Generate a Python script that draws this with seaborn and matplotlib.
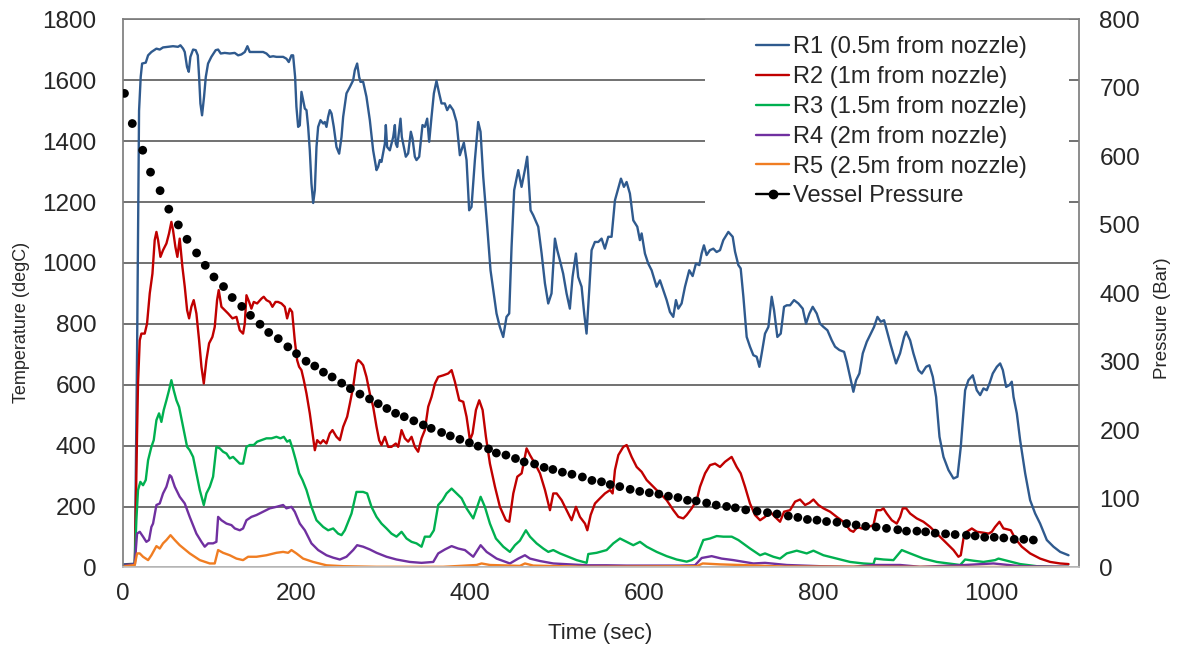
import matplotlib
matplotlib.use("Agg")
import matplotlib.pyplot as plt
import seaborn as sns
from matplotlib.lines import Line2D
from matplotlib.patches import Rectangle

# R1 (0.5m from nozzle)
r1_t = [0, 14, 16.5, 18.8, 20.7, 22.3, 26.5, 29.2, 33, 38.8, 42.6, 46.4, 52.2, 57.9, 63.7, 66.4, 69.5, 71.4, 74, 76,
        77.9, 81, 84, 86.4, 87.9, 89.4, 91.3, 93.6, 95.6, 98.2, 102, 107, 109.8, 112.8, 117.4, 123.2, 128.9, 132.8,
        136.6, 140.5, 143.5, 146.2, 150, 155.8, 161.6, 165.4, 169.3, 173.1, 176.9, 180.8, 184.6, 188.4, 191.1, 194.2,
        196.1, 198.4, 199.9, 201.9, 203.8, 205.7, 207.6, 209.6, 211.5, 213.4, 215.3, 217.2, 219.2, 221.1, 223, 224.9,
        227.6, 230.7, 232.6, 234.5, 236.4, 238.3, 240.3, 242.9, 246, 249.1, 251.8, 253.7, 257.5, 261.4, 265.2, 267.1,
        269.8, 272.1, 273.6, 276.7, 280.5, 284.4, 288.2, 292.1, 294, 295.9, 297.8, 301.7, 302.8, 304.3, 307.4, 309.3,
        311.3, 313.2, 314.3, 315.9, 318.2, 319.7, 321.2, 323.5, 325.8, 328.5, 331.6, 333.5, 336.2, 338.1, 341.2, 345,
        347.7, 350.4, 352.7, 355.4, 358.1, 361.1, 364.2, 366.9, 370.7, 373.4, 376.5, 380.3, 384.2, 388, 392.6, 395.7,
        398.7, 401.4, 405.3, 409.1, 411.8, 414.9, 419.5, 423.3, 426.4, 430.2, 434, 437.9, 441.7, 444.8, 447.5, 450.5,
        455.2, 459, 462.8, 465.5, 469.4, 472.4, 478.2, 482.1, 485.9, 489.7, 493.5, 497.4, 500.1, 503.1, 506.9, 510.8,
        514.6, 517.7, 521.6, 524.2, 528.1, 531.1, 533.8, 536.9, 539.6, 543.4, 547.3, 551.1, 554.9, 558.8, 562.6, 566.5,
        570.3, 573.4, 576.8, 579.9, 583.7, 587.6, 592.2, 595.2, 597.2, 601, 604.8, 608.7, 614.4, 618.3, 622.1, 626,
        629.8, 633.6, 636.7, 639.4, 643.2, 647.1, 652, 655.9, 659.7, 663.6, 666.2, 668.9, 672, 675.8, 679.7, 683.5,
        687.4, 691.2, 697, 702, 704.7, 708.5, 711.2, 714.3, 718.1, 721.9, 725.8, 729.6, 732.7, 735.4, 739.2, 743.1,
        746.9, 749.6, 753.4, 757.3, 761.1, 764.2, 768, 772.6, 777.6, 782.6, 786.4, 790.3, 794.1, 798.7, 802.5, 806.4,
        811, 816, 819.8, 824.8, 830.2, 833.3, 837.1, 840.9, 844, 847.8, 851.7, 856.3, 860.9, 864.7, 868.6, 872.4,
        876.2, 879.3, 883.9, 890, 894.6, 899.3, 901.6, 906.2, 910, 915.8, 919.6, 924.6, 928.4, 932.3, 936.1, 940,
        944.6, 950.3, 956.1, 960.7, 964.5, 969.5, 973.3, 978.3, 982.9, 986.8, 990.6, 994.4, 997.5, 1001.3, 1006,
        1009.8, 1012.9, 1016.7, 1020.5, 1023.2, 1025.2, 1029, 1032.8, 1038.6, 1044.3, 1050.1, 1055.8, 1063.5, 1071.2,
        1078.9, 1088.5]
r1_temp = [10, 12, 700, 1500, 1611, 1655, 1658, 1682, 1693, 1704, 1701, 1708, 1710, 1712, 1710, 1715, 1704, 1693, 1644,
           1628, 1677, 1701, 1699, 1682, 1611, 1524, 1485, 1546, 1611, 1655, 1677, 1699, 1701, 1688, 1690, 1688, 1690,
           1682, 1685, 1693, 1712, 1693, 1693, 1693, 1693, 1688, 1677, 1679, 1677, 1677, 1677, 1671, 1660, 1682, 1682,
           1611, 1513, 1447, 1452, 1562, 1535, 1507, 1502, 1447, 1370, 1261, 1197, 1239, 1381, 1447, 1469, 1458, 1463,
           1447, 1480, 1502, 1491, 1447, 1381, 1359, 1414, 1480, 1557, 1578, 1600, 1633, 1655, 1611, 1595, 1595, 1546,
           1469, 1370, 1305, 1316, 1338, 1332, 1392, 1453, 1381, 1370, 1392, 1414, 1453, 1392, 1381, 1436, 1474, 1414,
           1381, 1349, 1360, 1431, 1409, 1349, 1338, 1349, 1453, 1447, 1474, 1398, 1480, 1557, 1598, 1557, 1524, 1524,
           1502, 1518, 1502, 1463, 1354, 1395, 1338, 1173, 1184, 1338, 1463, 1431, 1283, 1119, 976, 911, 834, 790, 757,
           823, 834, 1053, 1239, 1305, 1250, 1305, 1349, 1173, 1157, 1119, 1031, 933, 867, 900, 1080, 1042, 1009, 965,
           900, 850, 954, 1031, 954, 922, 834, 768, 911, 1042, 1069, 1069, 1080, 1047, 1086, 1086, 1206, 1245, 1277,
           1250, 1266, 1228, 1140, 1119, 1075, 1097, 1031, 998, 976, 922, 943, 911, 878, 839, 823, 878, 850, 867, 922,
           976, 957, 998, 993, 1031, 1058, 1026, 1042, 1047, 1036, 1042, 1075, 1102, 1086, 1037, 993, 982, 889, 757,
           725, 697, 692, 659, 703, 768, 790, 889, 845, 757, 768, 856, 861, 861, 878, 867, 850, 801, 834, 856, 834, 801,
           790, 779, 746, 725, 714, 708, 675, 626, 577, 615, 637, 703, 741, 768, 790, 823, 807, 812, 779, 730, 670, 703,
           757, 774, 746, 703, 648, 637, 659, 664, 626, 560, 429, 363, 320, 292, 298, 396, 582, 615, 631, 582, 566, 588,
           582, 604, 637, 659, 670, 648, 593, 599, 610, 560, 506, 418, 309, 221, 177, 144, 90, 68, 51, 40]

# R2 (1m from nozzle)
r2_t = [0, 14, 16.5, 17.6, 19.6, 21.5, 25.3, 28, 31.1, 34.2, 36.8, 38.8, 40.7, 43.4, 46.4, 50.3, 53.3, 56, 57.9, 60.6,
        62.9, 65.6, 68.7, 71.4, 74.1, 76.4, 79, 81.7, 84.8, 87.9, 90.6, 93.3, 96.3, 99.4, 103.2, 105.9, 108.6, 110.5,
        113.6, 117.4, 121.3, 126.3, 130.9, 134.7, 138.5, 140.5, 142.4, 145.5, 148.1, 150.8, 154.7, 159.7, 162.3,
        165.4, 169.3, 172.3, 175.8, 178.8, 182.7, 186.5, 189.2, 192.3, 195, 198, 200.7, 203, 205.7, 208.4, 211.5,
        215.3, 218.4, 221.1, 223.8, 227.6, 230.7, 234.5, 238.3, 241.4, 246, 249.9, 253.7, 258.3, 261.4, 265.2, 269,
        271, 273.6, 276.7, 280.5, 284.4, 288.2, 292.1, 295.1, 297.8, 301.7, 305.5, 309.3, 314.3, 317, 320.9, 324.7,
        328.5, 332.4, 336.2, 340, 343.9, 347.7, 351.6, 355.4, 359.3, 363.1, 368.9, 374.6, 378.5, 382.3, 387.3, 391.9,
        395.7, 399.6, 402.6, 406.5, 410.3, 414.2, 418, 422.6, 428.4, 434.1, 441, 444.9, 449.5, 454.1, 459.1, 464.8,
        468.7, 474.4, 480.2, 486, 491.7, 495.5, 499.4, 505.1, 510.9, 516.6, 521.6, 526.2, 532, 534.7, 538.5, 543.5,
        549.3, 555, 560.8, 563.8, 566.5, 570.4, 576.1, 580, 585.7, 591.5, 597.2, 603, 610.7, 618.3, 626, 633.7, 639.5,
        645.2, 649, 654.8, 660.6, 664.4, 670.2, 675.9, 681.7, 687.4, 693.2, 700.8, 706.6, 711.2, 716.2, 721.9, 727.7,
        733.5, 739.2, 745, 750.7, 756.5, 761.1, 768, 773.8, 779.5, 785.3, 790.3, 794.9, 800.6, 806.4, 814.1, 821.7,
        829.4, 837.1, 840.9, 845.5, 850.5, 858.2, 864, 867.8, 872.4, 875.5, 879.3, 885.1, 890.8, 894.7, 897.7, 901.6,
        906.2, 913.8, 921.5, 929.2, 938.8, 948.4, 956.1, 961.8, 964.5, 967.6, 971.4, 977.2, 983, 990.6, 996.4, 1000.2,
        1004, 1009, 1013.6, 1018.2, 1022.1, 1027.1, 1034.7, 1044.3, 1055.8, 1067.4, 1078.9, 1088.5]
r2_temp = [7, 10, 440, 604, 746, 768, 768, 801, 900, 965, 1075, 1102, 1075, 1020, 1042, 1064, 1097, 1135, 1108, 1053,
           1020, 1080, 987, 922, 845, 818, 856, 878, 834, 746, 659, 604, 681, 736, 757, 790, 878, 911, 856, 845, 834,
           818, 823, 779, 768, 801, 894, 872, 850, 872, 867, 883, 889, 878, 872, 856, 872, 872, 867, 856, 818, 850, 839,
           746, 681, 659, 648, 615, 571, 506, 440, 385, 418, 407, 418, 407, 440, 451, 429, 418, 462, 495, 538, 593, 670,
           681, 675, 664, 626, 571, 528, 462, 418, 402, 429, 396, 396, 407, 396, 451, 424, 413, 429, 396, 380, 424, 451,
           528, 560, 604, 626, 631, 637, 648, 610, 549, 544, 495, 418, 440, 517, 549, 517, 429, 341, 265, 199, 155, 150,
           243, 298, 309, 391, 369, 341, 309, 254, 188, 243, 243, 221, 188, 155, 199, 166, 144, 122, 172, 210, 227, 243,
           254, 243, 320, 369, 396, 402, 363, 330, 314, 287, 265, 243, 221, 188, 166, 161, 172, 194, 221, 265, 309, 336,
           341, 330, 347, 363, 330, 309, 265, 210, 172, 155, 166, 183, 166, 150, 183, 188, 216, 223, 205, 212, 223, 205,
           194, 183, 166, 150, 122, 117, 133, 128, 133, 139, 188, 188, 194, 177, 155, 144, 166, 194, 194, 177, 161, 150,
           133, 106, 79, 57, 35, 40, 95, 117, 128, 117, 114, 111, 117, 133, 150, 128, 125, 122, 95, 68, 46, 29, 18, 13,
           11]

# R3 (1.5m from nozzle)
r3_t = [0, 13.8, 15.7, 17.6, 20.3, 23.4, 26.5, 29.2, 33, 35.7, 38.8, 41.8, 44.5, 47.2, 50.3, 53.3, 56, 58.7, 61.8,
        64.9, 69.5, 74.1, 77.1, 81, 84.8, 88.7, 93.3, 96.3, 100.2, 104, 107.8, 111.7, 115.5, 119.4, 123.2, 127, 130.9,
        134.7, 138.5, 142.4, 146.2, 150.8, 154.7, 159.7, 165.4, 171.2, 176.9, 181.5, 185.4, 189.2, 192.3, 195.4,
        199.2, 203, 206.9, 211.5, 217.2, 223, 230.7, 236.4, 242.2, 247.9, 251.8, 255.6, 259.5, 263.3, 269, 276.7,
        281.3, 286.3, 292.1, 297.8, 303.6, 309.3, 315.1, 320.9, 326.6, 332.4, 338.1, 343.9, 347.7, 353.5, 358.1,
        363.1, 368.1, 372.7, 378.5, 384.2, 390, 395.7, 403.4, 408, 411.9, 416.8, 422.6, 429.5, 438, 445.6, 451.4,
        457.1, 464, 468.7, 476.3, 484, 489.8, 495.5, 503.2, 512.8, 522.4, 533.9, 535.8, 545.4, 556.9, 564.6, 572.3,
        579.9, 587.6, 595.3, 603, 614.5, 626, 637.5, 649, 654.8, 660.6, 668.2, 675.9, 683.6, 691.3, 700.9, 708.5, 722,
        733.5, 739.2, 748.8, 756.5, 764.2, 775.7, 787.2, 794.9, 806.4, 821.7, 837.1, 852.4, 864, 865.9, 875.5, 887,
        896.6, 906.2, 921.5, 936.9, 956.1, 963.8, 969.5, 979.1, 990.6, 1004, 1007.9, 1017.5, 1032.8, 1052, 1071.2,
        1088.5]
r3_temp = [5, 11, 155, 254, 281, 270, 287, 352, 396, 418, 484, 506, 478, 517, 549, 582, 615, 582, 549, 527, 462, 396,
           385, 363, 309, 254, 205, 243, 265, 298, 396, 391, 380, 374, 358, 363, 352, 341, 341, 396, 402, 402, 413, 418,
           424, 424, 429, 424, 429, 413, 418, 391, 352, 309, 287, 254, 199, 155, 133, 122, 128, 111, 106, 122, 150, 177,
           248, 248, 243, 199, 166, 144, 128, 111, 101, 117, 95, 84, 79, 68, 101, 101, 122, 205, 221, 243, 259, 243, 227,
           194, 161, 199, 232, 199, 144, 95, 68, 51, 73, 88, 122, 101, 79, 62, 51, 57, 46, 35, 24, 15, 44, 48, 57, 79, 95,
           84, 73, 84, 68, 51, 37, 26, 19, 24, 35, 90, 95, 103, 101, 101, 90, 62, 40, 46, 35, 29, 46, 55, 46, 55, 40, 29,
           18, 13, 11, 29, 26, 24, 57, 46, 29, 18, 11, 8, 26, 22, 18, 24, 29, 22, 11, 4, 2, 2]

# R4 (2m from nozzle)
r4_t = [0, 13.8, 16.5, 19.6, 23.4, 27.2, 30.3, 33, 34.9, 38.8, 42.6, 46.4, 50.3, 54.1, 56, 59.9, 65.6, 71.4, 77.1,
        84.8, 90.6, 94.4, 98.3, 104, 107.8, 109.8, 113.6, 119.4, 125.1, 129, 134.7, 138.5, 142.4, 148.1, 153.9, 161.6,
        169.3, 176.9, 184.6, 188.4, 194.2, 198, 203.8, 209.6, 217.2, 224.9, 234.5, 242.2, 249.9, 257.5, 265.2, 269.8,
        276.7, 284.4, 292.1, 303.6, 315.1, 330.4, 343.9, 357.4, 363.1, 370.8, 378.5, 386.1, 393.8, 403.4, 411.9,
        418.8, 430.3, 445.6, 455.2, 462.9, 468.7, 480.2, 495.5, 514.7, 533.9, 556.9, 580, 610.7, 641.4, 658.6, 666.3,
        677.8, 689.3, 702.8, 725.8, 739.2, 764.2, 802.5, 840.9, 864, 894.7, 917.7, 969.5, 1002, 1032.8, 1088.5]
r4_temp = [5, 11, 111, 117, 101, 84, 90, 133, 144, 205, 210, 243, 265, 303, 298, 265, 232, 210, 166, 111, 84, 68, 79,
           79, 84, 166, 155, 144, 139, 128, 122, 128, 155, 166, 172, 183, 194, 199, 205, 194, 199, 183, 144, 122, 79,
           57, 40, 32, 26, 35, 57, 73, 68, 59, 48, 35, 26, 18, 15, 18, 46, 59, 70, 62, 57, 35, 73, 51, 29, 13, 29, 40,
           29, 21, 13, 10, 7, 7, 6, 6, 6, 7, 31, 37, 29, 24, 13, 15, 8, 4, 2, 8, 8, 2, 8, 13, 4, 2]

# R5 (2.5m from nozzle)
r5_t = [0, 13.8, 16.5, 19.6, 23.4, 29.2, 33, 38.8, 42.6, 46.4, 50.3, 55, 59.9, 65.6, 77.1, 88.7, 100.2, 105.9, 109.8,
        115.5, 123.2, 130.9, 138.5, 144.3, 153.9, 165.4, 176.9, 184.6, 190.4, 194.2, 199.9, 207.6, 219.2, 234.5,
        253.7, 292.1, 368.8, 407.2, 413, 422.6, 457.1, 462.9, 472.5, 533.9, 660.6, 667.5, 687.4, 710.4, 760, 900,
        1088.5]
r5_temp = [3, 8, 46, 46, 35, 24, 40, 70, 62, 79, 90, 106, 90, 73, 46, 24, 13, 13, 57, 48, 40, 29, 24, 35, 35, 40, 48,
           51, 48, 57, 46, 29, 18, 7, 4, 2, 2, 8, 13, 8, 5, 13, 6, 2, 4, 13, 10, 8, 3, 2, 1]

# Vessel pressure (Bar)
p_t = [2, 11, 23, 32, 43, 53, 64, 74, 85, 95, 105, 116, 126, 137, 147, 158, 168, 179, 190, 200, 211, 221, 231, 241,
       252, 262, 273, 284, 294, 304, 314, 324, 335, 346, 355, 367, 377, 388, 399, 409, 421, 430, 441, 452, 462, 474,
       485, 495, 506, 517, 529, 540, 551, 561, 572, 584, 595, 606, 617, 628, 639, 650, 660, 672, 683, 695, 705, 717,
       730, 742, 753, 766, 777, 788, 799, 810, 822, 833, 844, 855, 867, 879, 892, 902, 914, 924, 935, 947, 958, 971,
       981, 992, 1003, 1014, 1026, 1037, 1048]
p_bar = [692, 648, 609, 577, 550, 523, 500, 479, 459, 441, 424, 410, 394, 381, 368, 355, 343, 334, 322, 312, 301, 294,
         285, 278, 269, 261, 253, 246, 239, 232, 225, 220, 214, 208, 203, 197, 192, 187, 182, 177, 173, 167, 164, 159,
         154, 151, 146, 143, 139, 136, 132, 127, 125, 121, 118, 114, 111, 109, 107, 104, 102, 98, 97, 94, 91, 89, 87,
         84, 82, 80, 78, 75, 73, 70, 69, 67, 66, 64, 62, 60, 59, 57, 55, 53, 53, 52, 50, 49, 48, 47, 46, 44, 44, 43,
         41, 41, 40]

series = [
    ("R1 (0.5m from nozzle)", r1_t, r1_temp, "#2f5a8e"),
    ("R2 (1m from nozzle)", r2_t, r2_temp, "#c00000"),
    ("R3 (1.5m from nozzle)", r3_t, r3_temp, "#00b050"),
    ("R4 (2m from nozzle)", r4_t, r4_temp, "#7030a0"),
    ("R5 (2.5m from nozzle)", r5_t, r5_temp, "#f07d22"),
]

sns.set_theme(style="white")
plt.rcParams["font.family"] = ["Liberation Sans", "DejaVu Sans"]

fig, ax = plt.subplots(figsize=(11.8, 6.47), dpi=100)
fig.subplots_adjust(left=0.104, right=0.914, bottom=0.123, top=0.970)

handles = []
for name, t, v, c in series:
    sns.lineplot(x=t, y=v, ax=ax, color=c, linewidth=1.7, estimator=None, sort=False, legend=False)
    handles.append(Line2D([], [], color=c, linewidth=1.7, label=name))

ax.set_xlim(0, 1100)
ax.set_ylim(0, 1800)
ax.set_xticks(range(0, 1001, 200))
ax.set_yticks(range(0, 1801, 200))
ax.grid(axis="y", color="#4a4a4a", linewidth=1.1)
ax.grid(axis="x", visible=False)
ax.tick_params(axis="both", length=0, labelsize=17.5)
ax.tick_params(axis="y", pad=19)
ax.tick_params(axis="x", pad=11)
ax.set_xlabel("Time (sec)", fontsize=16, va="center")
ax.set_ylabel("Temperature (degC)", fontsize=13, va="center")
ax.xaxis.set_label_coords(0.5, -0.12)
ax.yaxis.set_label_coords(-0.106, 0.447)
for side in ["left", "right", "top"]:
    ax.spines[side].set_color("#7f7f7f")
ax.spines["bottom"].set_color("#bfbfbf")

# white box behind the legend hides the gridlines there
ax.add_patch(Rectangle((0.609, 0.643), 0.381, 0.357, transform=ax.transAxes,
                       facecolor="white", edgecolor="none", zorder=1.8))

ax2 = ax.twinx()
sns.scatterplot(x=p_t, y=p_bar, ax=ax2, color="black", s=40, edgecolor="none", legend=False, zorder=3)
ax2.set_ylim(0, 800)
ax2.set_yticks(range(0, 801, 100))
ax2.tick_params(axis="y", length=0, labelsize=17.5, pad=15)
ax2.set_ylabel("Pressure (Bar)", fontsize=13.5, va="center")
ax2.yaxis.set_label_coords(1.088, 0.455)
ax2.grid(False)
for side in ax2.spines:
    ax2.spines[side].set_visible(False)

handles.append(Line2D([], [], color="black", linewidth=1.7, marker="o", markersize=6, label="Vessel Pressure"))
ax2.legend(handles=handles, loc="upper left", bbox_to_anchor=(0.663, 0.969), frameon=False,
           fontsize=17, handlelength=1.4, handletextpad=0.15, labelspacing=0.33,
           borderpad=0, borderaxespad=0)

fig.savefig("out.png", dpi=100)
